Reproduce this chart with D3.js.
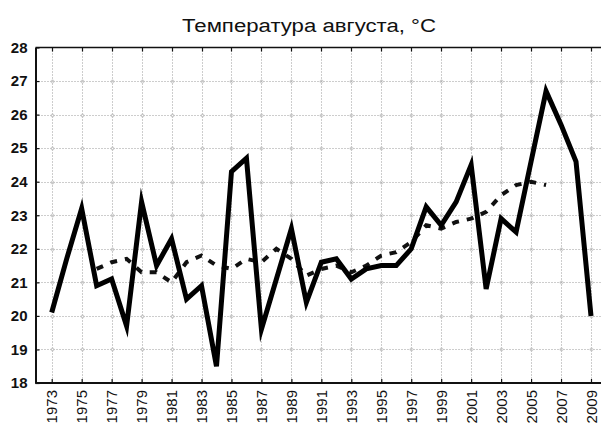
<!DOCTYPE html>
<html>
<head>
<meta charset="utf-8">
<script src="https://cdn.jsdelivr.net/npm/d3@7/dist/d3.min.js"></script>
<style>
  html, body { margin: 0; padding: 0; background: #fff; }
  svg { display: block; }
  text { font-family: "Liberation Sans", Arial, sans-serif; fill: #111; }
</style>
</head>
<body>
<svg id="chart" width="601" height="423"></svg>
<script>
// ---- data ----
const years = d3.range(1973, 2010);
const augustTemp = [
  20.1, 21.7, 23.2, 20.9, 21.1, 19.7, 23.4, 21.5, 22.3, 20.5,
  20.9, 18.5, 24.3, 24.7, 19.6, 21.1, 22.6, 20.4, 21.6, 21.7,
  21.1, 21.4, 21.5, 21.5, 22.0, 23.25, 22.7, 23.4, 24.5, 20.8,
  22.9, 22.5, 24.6, 26.7, 25.7, 24.6, 20.0
];
const smoothYears = d3.range(1976, 2007);
const smoothTemp = [
  21.4, 21.6, 21.7, 21.3, 21.3, 21.0, 21.6, 21.8, 21.5, 21.4,
  21.7, 21.6, 22.0, 21.7, 21.2, 21.4, 21.5, 21.3, 21.5, 21.8,
  21.9, 22.2, 22.7, 22.6, 22.8, 22.9, 23.1, 23.6, 23.9, 24.0, 23.9
];
const yTicks = [18, 19, 20, 21, 22, 23, 24, 25, 26, 27, 28];
const xTickYears = d3.range(1973, 2010, 2);
const title = "Температура августа, °С";

(function () {
// ---- layout ----
const svg = d3.select("#chart");
const pLeft = 35.5, pTop = 47.5, pBottom = 383, pRight = 601;
const x = d3.scaleLinear().domain([1973, 2009]).range([51.7, 591]);
const y = d3.scaleLinear().domain([18, 28]).range([pBottom, pTop]);

// grid
const grid = svg.append("g").attr("stroke", "#9a9a9a").attr("stroke-width", 1)
  .attr("stroke-dasharray", "1,2");
grid.selectAll("line.h").data(yTicks.slice(1, -1)).join("line")
  .attr("x1", pLeft).attr("x2", pRight)
  .attr("y1", d => Math.round(y(d)) + 0.5).attr("y2", d => Math.round(y(d)) + 0.5);
grid.selectAll("line.v").data(xTickYears).join("line")
  .attr("y1", pTop).attr("y2", pBottom)
  .attr("x1", d => Math.round(x(d)) + 0.5).attr("x2", d => Math.round(x(d)) + 0.5);

// small circles at grid crossings
const crossings = [];
xTickYears.forEach(a => yTicks.slice(1, -1).forEach(b => crossings.push([a, b])));
svg.append("g").selectAll("circle").data(crossings).join("circle")
  .attr("cx", d => Math.round(x(d[0])) + 0.5)
  .attr("cy", d => Math.round(y(d[1])) + 0.5)
  .attr("r", 1.5).attr("fill", "none").attr("stroke", "#bbb").attr("stroke-width", 0.8);

// frame top
svg.append("line").attr("x1", pLeft).attr("x2", pRight).attr("y1", pTop).attr("y2", pTop)
  .attr("stroke", "#111").attr("stroke-width", 1.6);
svg.append("g").selectAll("line").data(xTickYears).join("line")
  .attr("x1", d => Math.round(x(d)) + 0.5).attr("x2", d => Math.round(x(d)) + 0.5)
  .attr("y1", pTop).attr("y2", pTop + 4).attr("stroke", "#111").attr("stroke-width", 1.2);

// y axis
const yAxis = svg.append("g").attr("transform", `translate(${pLeft},0)`)
  .call(d3.axisLeft(y).tickValues(yTicks).tickFormat(d3.format("d"))
    .tickSizeInner(-4).tickSizeOuter(0).tickPadding(8));
yAxis.select(".domain").attr("stroke", "#111").attr("stroke-width", 2);
yAxis.selectAll(".tick line").attr("stroke", "#111").attr("stroke-width", 1.2);
yAxis.selectAll(".tick text").attr("font-size", 15).attr("font-weight", "bold")
  .style("font-family", "'Liberation Sans', Arial, sans-serif").attr("fill", "#111");

// x axis
const xAxis = svg.append("g").attr("transform", `translate(0,${pBottom})`)
  .call(d3.axisBottom(x).tickValues(xTickYears).tickFormat(d3.format("d"))
    .tickSizeInner(-4).tickSizeOuter(0));
xAxis.select(".domain").attr("d", `M${pLeft},0H${pRight}`)
  .attr("stroke", "#111").attr("stroke-width", 2);
xAxis.selectAll(".tick line").attr("stroke", "#111").attr("stroke-width", 1.2);
xAxis.selectAll(".tick text")
  .attr("font-size", 15)
  .style("font-family", "'Liberation Sans', Arial, sans-serif").attr("fill", "#111")
  .attr("transform", "rotate(-90)")
  .attr("x", -7).attr("y", 0).attr("dy", "0.35em")
  .attr("text-anchor", "end");

// title
svg.append("text").attr("x", 309).attr("y", 31.5).attr("text-anchor", "middle")
  .attr("font-size", 18).attr("textLength", 254).attr("lengthAdjust", "spacingAndGlyphs")
  .text(title);

// smoothed dashed line
const line = d3.line().x(d => x(d[0])).y(d => y(d[1]));
svg.append("path")
  .datum(smoothYears.map((yr, i) => [yr, smoothTemp[i]]))
  .attr("d", line)
  .attr("fill", "none").attr("stroke", "#111").attr("stroke-width", 4)
  .attr("stroke-dasharray", "7,8");

// main line
svg.append("path")
  .datum(years.map((yr, i) => [yr, augustTemp[i]]))
  .attr("d", line)
  .attr("fill", "none").attr("stroke", "#000").attr("stroke-width", 5)
  .attr("stroke-linejoin", "miter").attr("stroke-miterlimit", 6);
})();
</script>
</body>
</html>
